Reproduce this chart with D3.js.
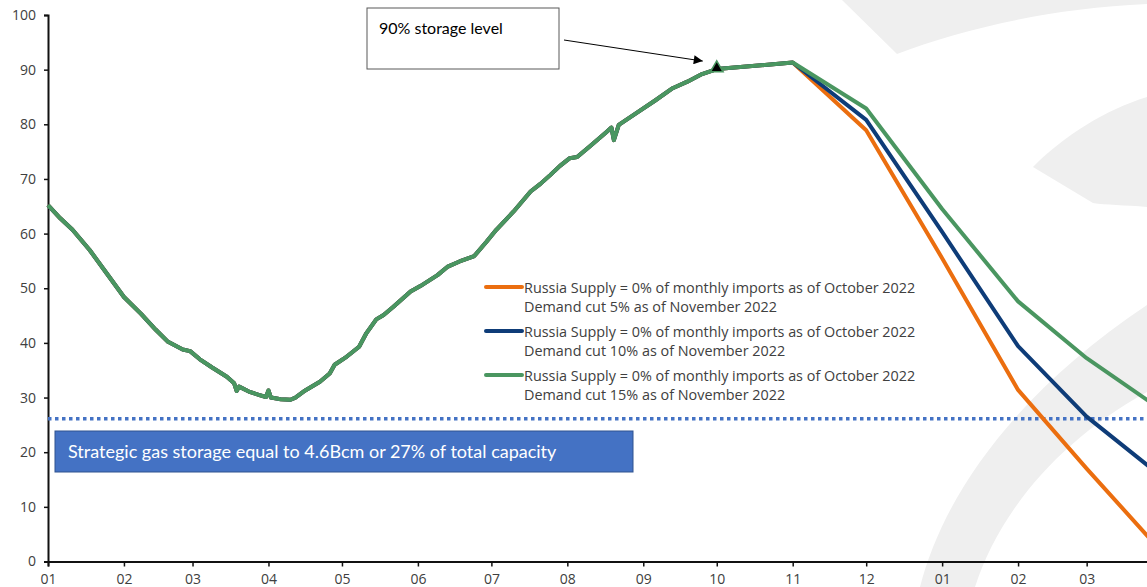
<!DOCTYPE html>
<html>
<head>
<meta charset="utf-8">
<script src="https://cdn.jsdelivr.net/npm/d3@7"></script>
<style>
  body { margin: 0; background: #fff; }
  svg { display: block; }
</style>
</head>
<body>
<div id="chart"></div>
<script>
// Observed storage level (%), 2022
var histDates = ["2022-01-01","2022-01-06","2022-01-11","2022-01-18","2022-01-25","2022-02-01","2022-02-08","2022-02-14",
  "2022-02-19","2022-02-25","2022-02-28","2022-03-04","2022-03-09","2022-03-15","2022-03-18","2022-03-19","2022-03-20",
  "2022-03-24","2022-03-28","2022-03-31","2022-04-01","2022-04-02","2022-04-06","2022-04-10","2022-04-12","2022-04-16",
  "2022-04-22","2022-04-26","2022-04-28","2022-05-03","2022-05-08","2022-05-11","2022-05-15","2022-05-18","2022-05-22",
  "2022-05-29","2022-06-02","2022-06-09","2022-06-13","2022-06-18","2022-06-24","2022-06-29","2022-07-03","2022-07-10",
  "2022-07-17","2022-07-21","2022-07-25","2022-07-29","2022-08-02","2022-08-05","2022-08-10","2022-08-17","2022-08-19",
  "2022-08-20","2022-08-22","2022-08-29","2022-09-06","2022-09-13","2022-09-19","2022-09-25","2022-10-01"];
var histValues = [65.2,62.8,60.7,57.0,52.7,48.4,45.3,42.4,
  40.2,38.8,38.5,37.0,35.5,33.8,32.6,31.2,32.0,
  31.1,30.5,30.1,31.3,30.0,29.7,29.6,30.0,31.3,
  32.9,34.4,36.0,37.5,39.3,41.8,44.3,45.1,46.6,
  49.4,50.4,52.4,53.9,54.9,55.9,58.5,60.7,64.0,
  67.7,69.1,70.7,72.4,73.8,74.0,75.9,78.6,79.4,
  77.1,79.9,82.0,84.4,86.6,87.8,89.2,90.1];

// Scenario projections (monthly)
var forecastDates = ["2022-10-01","2022-11-01","2022-12-01","2023-01-01","2023-02-01","2023-03-01","2023-04-01"];
var cut5Values  = [90.1, 91.3, 78.9, 55.5, 31.4, 17.0, 1.6];
var cut10Values = [90.1, 91.3, 80.8, 60.3, 39.4, 26.5, 15.4];
var cut15Values = [90.1, 91.3, 82.9, 64.5, 47.6, 37.2, 27.6];

var seriesNames = [
  ["Russia Supply = 0% of monthly imports as of October 2022", "Demand cut 5% as of November 2022"],
  ["Russia Supply = 0% of monthly imports as of October 2022", "Demand cut 10% as of November 2022"],
  ["Russia Supply = 0% of monthly imports as of October 2022", "Demand cut 15% as of November 2022"]
];
var seriesColors = ["#EB6E0F", "#0E3C78", "#4A9660"];

var yTicks = [0,10,20,30,40,50,60,70,80,90,100];
var strategicLevel = 26.1;
var targetDate = "2022-10-01";
var boxLabel = "Strategic gas storage equal to 4.6Bcm or 27% of total capacity";
var noteLabel = "90% storage level";

var W = 1147, H = 587;
var parse = d3.timeParse("%Y-%m-%d");

var svg = d3.select("#chart").append("svg")
  .attr("width", W).attr("height", H);

// background watermark (decorative)
var wm = svg.append("g").attr("fill", "#EFEFEF");
wm.append("path").attr("d", "M842,0 L897,54 C960,30 1050,8 1147,4 L1147,0 Z");
wm.append("path").attr("d", "M1033,167 C1065,135 1105,110 1147,97 L1147,207 C1125,205 1105,205 1093,203 Z");
wm.append("path").attr("d", "M920,587 C945,490 1020,390 1147,305 L1147,392 C1060,440 1000,510 975,587 Z");

var x = d3.scaleTime()
  .domain([parse("2022-01-01"), parse("2023-04-01")])
  .range([48, 1162.6]);

var y = d3.scaleLinear()
  .domain([0, 100])
  .range([561.5, 15]);

var font = "'Open Sans', sans-serif";

// y axis
var yAxis = svg.append("g")
  .attr("transform", "translate(48,0)")
  .call(d3.axisLeft(y).tickValues(yTicks).tickSize(4).tickPadding(8));
yAxis.select(".domain").attr("stroke", "#111").attr("stroke-width", 2);
yAxis.selectAll(".tick line").attr("stroke", "#111").attr("stroke-width", 1.5);
yAxis.selectAll("text").attr("fill", "#404040").style("font-family", font).style("font-size", "14px");

// x axis (only months that fall inside the picture)
var monthTicks = x.ticks(d3.timeMonth.every(1)).filter(function(d) { return x(d) < W; });
var xAxis = svg.append("g")
  .attr("transform", "translate(0,561.5)")
  .call(d3.axisBottom(x).tickValues(monthTicks).tickFormat(d3.timeFormat("%m")).tickSize(5).tickPadding(8));
xAxis.select(".domain").attr("stroke", "#111").attr("stroke-width", 2);
xAxis.selectAll(".tick line").attr("stroke", "#111").attr("stroke-width", 1.5);
xAxis.selectAll("text").attr("fill", "#404040").style("font-family", font).style("font-size", "14px");

// strategic storage dotted line
svg.append("line")
  .attr("x1", 48).attr("x2", W)
  .attr("y1", y(strategicLevel)).attr("y2", y(strategicLevel))
  .attr("stroke", "#4472C4").attr("stroke-width", 3.5)
  .attr("stroke-dasharray", "3.5,3.5");

// lines
var hist = histDates.map(function(d, i) { return {date: parse(d), value: histValues[i]}; });
var scenarios = [cut5Values, cut10Values, cut15Values].map(function(vals) {
  return hist.concat(forecastDates.slice(1).map(function(d, i) {
    return {date: parse(d), value: vals[i + 1]};
  }));
});

var line = d3.line()
  .x(function(d) { return x(d.date); })
  .y(function(d) { return y(d.value); });

svg.selectAll("path.series")
  .data(scenarios)
  .enter()
  .append("path")
  .attr("class", "series")
  .attr("d", line)
  .attr("fill", "none")
  .attr("stroke", function(d, i) { return seriesColors[i]; })
  .attr("stroke-width", 4)
  .attr("stroke-linejoin", "round");

// 90% marker
var tx = x(parse(targetDate)), ty = y(histValues[histValues.length - 1]);
svg.append("path")
  .attr("d", d3.symbol().type(d3.symbolTriangle).size(70))
  .attr("transform", "translate(" + tx + "," + (ty - 1) + ")")
  .attr("fill", "#000")
  .attr("stroke", seriesColors[2]).attr("stroke-width", 1.5);

// strategic box
svg.append("rect")
  .attr("x", 55).attr("y", 431).attr("width", 578).attr("height", 41)
  .attr("fill", "#4472C4").attr("stroke", "#2F528F").attr("stroke-width", 1);
svg.append("text")
  .attr("x", 68).attr("y", 458)
  .attr("fill", "#fff")
  .style("font-family", "Lato, sans-serif").style("font-size", "18px")
  .text(boxLabel);

// annotation box + arrow
svg.append("defs").append("marker")
  .attr("id", "arrow").attr("viewBox", "0 0 10 10")
  .attr("refX", 10).attr("refY", 5)
  .attr("markerWidth", 10).attr("markerHeight", 9)
  .attr("markerUnits", "userSpaceOnUse")
  .attr("orient", "auto")
  .append("path").attr("d", "M0,0 L10,5 L0,10 Z").attr("fill", "#000");

svg.append("rect")
  .attr("x", 367).attr("y", 8).attr("width", 192).attr("height", 61)
  .attr("fill", "#fff").attr("stroke", "#595959").attr("stroke-width", 1);
svg.append("text")
  .attr("x", 379).attr("y", 34)
  .attr("fill", "#000")
  .style("font-family", "Lato, sans-serif").style("font-size", "16px")
  .text(noteLabel);
svg.append("line")
  .attr("x1", 564).attr("y1", 40)
  .attr("x2", tx - 14).attr("y2", ty - 8)
  .attr("stroke", "#000").attr("stroke-width", 1)
  .attr("marker-end", "url(#arrow)");

// legend
var legend = svg.append("g").attr("transform", "translate(486,287)");
var items = legend.selectAll("g")
  .data(seriesNames)
  .enter()
  .append("g")
  .attr("transform", function(d, i) { return "translate(0," + (i * 44) + ")"; });
items.append("line")
  .attr("x1", 0).attr("x2", 36)
  .attr("stroke", function(d, i) { return seriesColors[i]; })
  .attr("stroke-width", 4).attr("stroke-linecap", "round");
items.selectAll("text")
  .data(function(d) { return d; })
  .enter()
  .append("text")
  .attr("x", 38)
  .attr("y", function(d, j) { return 6 + j * 19; })
  .attr("fill", "#404040")
  .style("font-family", font).style("font-size", "14.4px")
  .text(function(d) { return d; });
</script>
</body>
</html>
